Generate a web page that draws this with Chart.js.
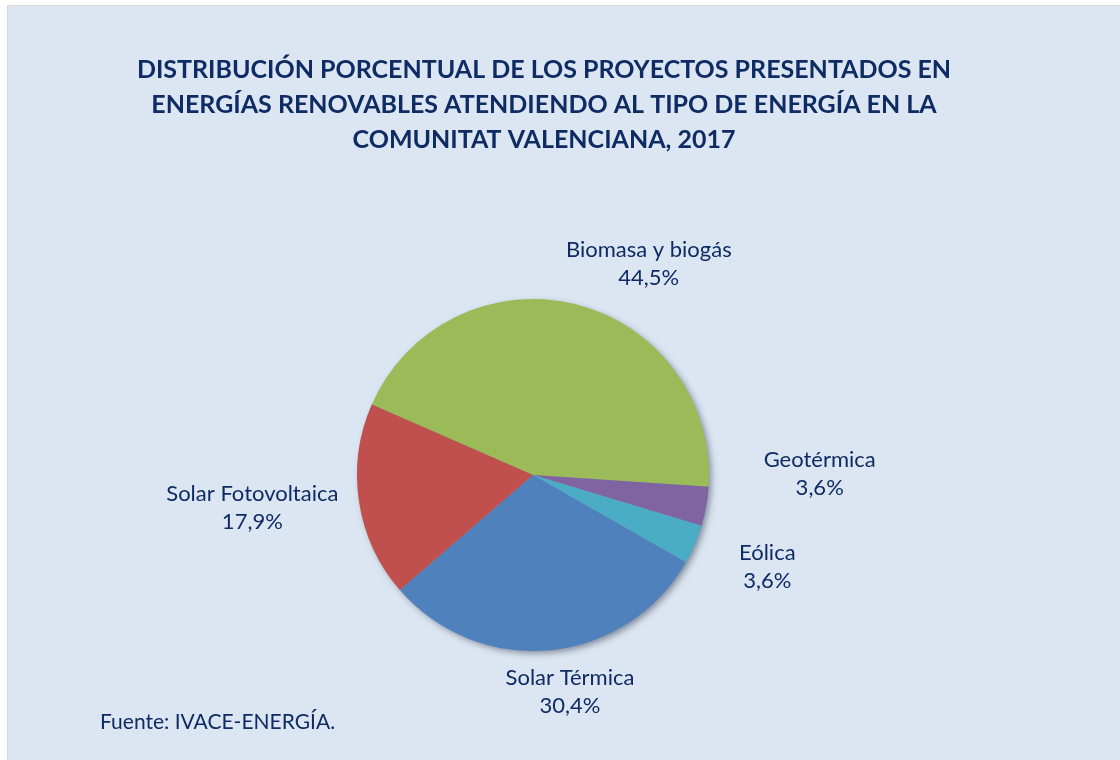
<!DOCTYPE html>
<html>
<head>
<meta charset="utf-8">
<script src="https://cdn.jsdelivr.net/npm/chart.js@4/dist/chart.umd.min.js"></script>
<style>
  html, body { margin: 0; padding: 0; background: #ffffff; }
  #wrap { width: 1120px; height: 760px; position: relative; }
</style>
</head>
<body>
<div id="wrap"><canvas id="pieChart" width="1120" height="760"></canvas></div>
<script>
var ctx = document.getElementById('pieChart');

var chartTitle = ["DISTRIBUCIÓN PORCENTUAL DE LOS PROYECTOS PRESENTADOS EN",
                  "ENERGÍAS RENOVABLES ATENDIENDO AL TIPO DE ENERGÍA EN LA",
                  "COMUNITAT VALENCIANA, 2017"];
var sourceText = "Fuente: IVACE-ENERGÍA.";

var energyLabels = ['Biomasa y biogás', 'Geotérmica', 'Eólica', 'Solar Térmica', 'Solar Fotovoltaica'];
var energyShares = [44.5, 3.6, 3.6, 30.4, 17.9];
var sliceColors = ['#9BBB59', '#8064A2', '#4BACC6', '#4F81BD', '#C0504D'];

// label nudges from the point just outside each slice (px)
var labelNudge = [[67, -11], [84, -38], [45, 11], [17, 12], [-77, 2]];

var textColor = '#0E2B63';
var fontFamily = 'Lato, "Open Sans", sans-serif';

var decorPlugin = {
    id: 'decor',
    beforeDraw: function(chart) {
        var c = chart.ctx;
        c.save();
        c.fillStyle = '#ffffff';
        c.fillRect(0, 0, chart.width, chart.height);
        c.fillStyle = '#DCE6F2';
        c.fillRect(8, 6, chart.width - 8, chart.height - 6);
        c.fillStyle = '#D9D9D9';
        c.fillRect(8, 5, chart.width - 8, 1);
        c.fillRect(7, 5, 1, chart.height - 5);

        c.fillStyle = textColor;
        c.textAlign = 'center';
        c.textBaseline = 'middle';
        c.font = 'bold 25px ' + fontFamily;
        chartTitle.forEach(function(line, i) {
            c.fillText(line, 544, 70 + i * 35);
        });
        c.textAlign = 'left';
        c.font = '21px ' + fontFamily;
        c.fillText(sourceText, 100, 722);
        c.restore();
    },
    beforeDatasetsDraw: function(chart) {
        var arc = chart.getDatasetMeta(0).data[0];
        if (!arc) return;
        var c = chart.ctx;
        c.save();
        c.shadowColor = 'rgba(40,50,70,0.55)';
        c.shadowBlur = 7;
        c.shadowOffsetX = 3;
        c.shadowOffsetY = 3;
        c.fillStyle = '#8a94a6';
        c.beginPath();
        c.arc(arc.x, arc.y, arc.outerRadius - 1, 0, Math.PI * 2);
        c.fill();
        c.restore();
    },
    afterDatasetsDraw: function(chart) {
        var c = chart.ctx;
        var meta = chart.getDatasetMeta(0);
        c.save();
        c.fillStyle = textColor;
        c.textAlign = 'center';
        c.textBaseline = 'middle';
        c.font = '22px ' + fontFamily;
        meta.data.forEach(function(arc, i) {
            var mid = (arc.startAngle + arc.endAngle) / 2;
            var d = arc.outerRadius + 30;
            var x = arc.x + Math.cos(mid) * d + labelNudge[i][0];
            var y = arc.y + Math.sin(mid) * d + labelNudge[i][1];
            var pct = energyShares[i].toFixed(1).replace('.', ',') + '%';
            c.fillText(energyLabels[i], x, y - 14);
            c.fillText(pct, x, y + 14);
        });
        c.restore();
    }
};

var pieChart = new Chart(ctx, {
    type: 'pie',
    data: {
        labels: energyLabels,
        datasets: [{
            data: energyShares,
            backgroundColor: sliceColors,
            borderWidth: 0
        }]
    },
    options: {
        responsive: false,
        animation: false,
        rotation: -66.4,
        layout: {
            padding: { left: 357, right: 411, top: 299, bottom: 109 }
        },
        plugins: {
            legend: { display: false },
            title: { display: false },
            tooltip: { enabled: false }
        }
    },
    plugins: [decorPlugin]
});
</script>
</body>
</html>
